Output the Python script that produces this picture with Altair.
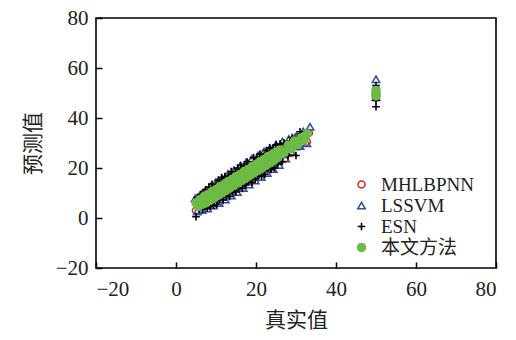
import altair as alt
import pandas as pd

series_names = ["MHLBPNN", "LSSVM", "ESN", "本文方法"]

mhl_x = [5.0, 5.6, 6.4, 7.3, 8.2, 9.1, 10.0, 11.0, 12.0, 13.0, 14.0, 15.0, 16.0, 17.0, 18.0, 19.0,
         20.0, 21.0, 22.0, 23.0, 24.0, 25.0, 26.0, 27.2, 27.8, 28.6, 29.6, 30.6, 31.6, 32.7, 33.2, 50.0, 50.0]
mhl_y = [3.0, 8.0, 3.6, 10.4, 5.0, 12.4, 6.6, 14.4, 8.6, 16.4, 10.6, 18.4, 12.6, 20.4, 14.6, 22.4,
         16.6, 24.4, 18.6, 26.4, 20.6, 28.2, 22.8, 23.9, 29.6, 26.0, 31.4, 28.6, 33.2, 30.5, 34.0, 51.5, 48.2]

ls_x = [4.8, 5.3, 5.9, 6.5, 7.2, 7.9, 8.6, 9.3, 10.0, 10.8, 11.5, 12.3, 13.0, 13.8, 14.5, 15.3, 16.0,
        16.8, 17.5, 18.3, 19.0, 19.8, 20.5, 21.3, 22.0, 22.8, 23.5, 24.3, 25.0, 25.8, 26.6, 27.4, 28.2,
        29.0, 29.8, 30.2, 31.0, 31.8, 32.7, 33.5, 50.0, 50.0, 50.0]
ls_y = [7.9, 2.6, 9.0, 3.2, 10.6, 3.8, 12.6, 5.0, 14.4, 6.0, 15.8, 7.4, 17.6, 9.0, 19.2, 10.4, 20.8,
        12.0, 22.2, 13.4, 23.8, 15.0, 25.0, 16.4, 26.6, 18.0, 28.0, 19.6, 29.4, 21.2, 30.6, 23.8, 31.6,
        26.6, 32.4, 32.5, 28.8, 34.6, 29.9, 36.5, 55.5, 50.8, 48.4]

esn_x = [5.0, 5.4, 5.8, 6.2, 6.6, 7.0, 7.4, 7.8, 8.2, 8.6, 9.0, 9.4, 9.8, 10.2, 10.6, 11.0, 11.4, 11.8,
         12.2, 12.6, 13.0, 13.4, 13.8, 14.2, 14.6, 15.0, 15.4, 15.8, 16.2, 16.6, 17.0, 17.4, 17.8, 18.2,
         18.6, 19.0, 19.4, 19.8, 20.2, 20.6, 21.0, 21.4, 21.8, 22.2, 22.6, 23.0, 23.4, 23.8, 24.2, 24.6,
         25.0, 25.5, 26.0, 26.5, 27.0, 28.0, 29.0, 30.0, 31.0, 32.0,
         5.2, 6.0, 6.8, 7.6, 8.4, 9.2, 10.0, 10.8, 11.6, 12.4, 13.2, 14.0, 14.8, 15.6, 16.4, 17.2, 18.0,
         18.8, 19.6, 20.4, 21.2, 22.0, 22.8, 23.6, 24.4, 25.2, 26.2, 27.5, 28.5, 30.5,
         50.0, 50.0, 50.0, 50.0]
esn_y = [0.5, 8.2, 3.6, 9.4, 3.6, 8.5, 11.2, 4.0, 12.4, 4.6, 13.5, 5.0, 11.8, 5.4, 15.2, 8.5, 16.2, 7.2,
         16.6, 11.1, 16.0, 8.6, 18.6, 10.6, 16.6, 10.4, 20.0, 13.4, 21.0, 11.8, 20.2, 13.2, 22.4, 15.2,
         21.0, 14.2, 24.2, 15.8, 24.0, 18.0, 25.6, 16.8, 24.4, 17.4, 27.0, 19.8, 28.0, 19.4, 27.8, 20.0,
         29.2, 21.7, 29.6, 22.5, 30.0, 25.0, 32.2, 25.0, 34.5, 33.0,
         6.8, 4.6, 9.2, 5.2, 11.2, 6.4, 13.2, 7.4, 14.6, 9.2, 16.8, 11.0, 18.2, 12.0, 19.4, 13.8, 21.6,
         15.6, 22.6, 16.6, 24.6, 19.0, 26.0, 20.0, 27.8, 22.2, 28.6, 25.5, 30.5, 32.5,
         53.0, 51.2, 47.0, 44.5]

our_x = [5.0, 5.5, 6.0, 6.5, 7.0, 7.5, 8.0, 8.5, 9.0, 9.5, 10.0, 10.5, 11.0, 11.5, 12.0, 12.5, 13.0,
         13.5, 14.0, 14.5, 15.0, 15.5, 16.0, 16.5, 17.0, 17.5, 18.0, 18.5, 19.0, 19.5, 20.0, 20.5, 21.0,
         21.5, 22.0, 22.5, 23.0, 23.5, 24.0, 24.5, 25.0, 25.5, 26.0, 27.0, 28.0, 28.8, 29.6, 30.4, 31.2,
         32.0, 32.8,
         6.2, 8.2, 10.2, 12.2, 14.2, 16.2, 18.2, 20.2, 22.2, 24.2, 26.5,
         50.0, 50.0, 50.0]
our_y = [6.0, 4.6, 7.4, 5.4, 8.6, 6.0, 9.4, 7.0, 10.6, 8.0, 11.4, 9.0, 12.6, 10.0, 13.4, 11.0, 14.6,
         12.0, 15.4, 13.0, 16.6, 14.0, 17.4, 15.0, 18.6, 16.0, 19.4, 17.0, 20.6, 18.0, 21.4, 19.0, 22.6,
         20.0, 23.4, 21.0, 24.6, 22.0, 25.4, 23.0, 26.4, 24.2, 27.2, 26.0, 29.0, 27.6, 30.8, 29.4, 32.0,
         31.2, 33.6,
         6.2, 8.2, 10.2, 12.2, 14.2, 16.2, 18.2, 20.2, 22.2, 24.2, 26.5,
         51.0, 50.0, 48.8]

x_ticks = [-20, 0, 20, 40, 60, 80]
y_ticks = [-20, 0, 20, 40, 60, 80]

frames = []
for name, xs, ys in [(series_names[0], mhl_x, mhl_y), (series_names[1], ls_x, ls_y),
                     (series_names[2], esn_x, esn_y), (series_names[3], our_x, our_y)]:
    frames.append(pd.DataFrame({"x": xs, "y": ys, "series": name}))
df = pd.concat(frames, ignore_index=True)

NUM_FONT = "Liberation Serif, Times New Roman, serif"
MIX_FONT = "Liberation Serif, Times New Roman, Noto Sans CJK SC, serif"
CJK_FONT = "Noto Sans CJK SC"

legend = alt.Legend(title=None, orient="none", legendX=256, legendY=157, labelFontSize=19,
                    labelFont=MIX_FONT, labelColor="#222", rowPadding=1, symbolStrokeWidth=1.6,
                    labelOffset=10, symbolOpacity=1)

xscale = alt.Scale(domain=[-20, 80], nice=False)
yscale = alt.Scale(domain=[-20, 80], nice=False)

chart = alt.Chart(df).mark_point(filled=False, opacity=1, strokeWidth=1.6).encode(
    x=alt.X("x:Q", scale=xscale, title="真实值", axis=alt.Axis(values=x_ticks, format="d")),
    y=alt.Y("y:Q", scale=yscale, title="预测值", axis=alt.Axis(values=y_ticks, format="d")),
    stroke=alt.Stroke("series:N", scale=alt.Scale(domain=series_names,
                      range=["#e8262a", "#2f4fa2", "#000000", "#6cbb45"]), legend=legend),
    fill=alt.Fill("series:N", scale=alt.Scale(domain=series_names,
                  range=["transparent", "transparent", "transparent", "#6cbb45"]), legend=legend),
    shape=alt.Shape("series:N", scale=alt.Scale(domain=series_names,
                    range=["circle", "triangle-up", "M-1,0L1,0M0,-1L0,1", "circle"]), legend=legend),
    size=alt.Size("series:N", scale=alt.Scale(domain=series_names, range=[50, 62, 72, 40]),
                  legend=legend),
).properties(
    width=400, height=250,
    autosize=alt.AutoSizeParams(type="none"),
    padding={"left": 88, "top": 10, "right": 10, "bottom": 76},
).configure_view(
    stroke="#000", strokeWidth=1.6
).configure_axis(
    grid=False, domain=False, ticks=True, tickColor="#000", tickWidth=1.5,
    tickSize=alt.ExprRef(expr="-6"),
    labelFont=NUM_FONT, labelFontSize=21, labelColor="#222",
    titleFont=CJK_FONT, titleFontSize=21, titleFontWeight="normal", titleColor="#222",
).configure_axisX(titlePadding=10, labelPadding=16).configure_axisY(titlePadding=12, labelPadding=14)

chart.save("out.html", embed_options={"renderer": "svg", "actions": False})
